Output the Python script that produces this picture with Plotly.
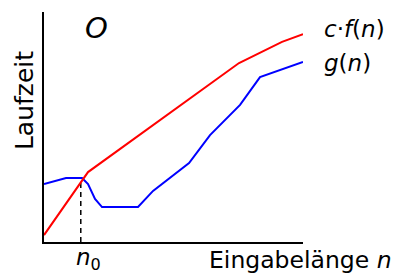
import plotly.graph_objects as go

# data (arbitrary units)
red_x = [0, 1.70, 7.53, 9.19, 10]
red_y = [0.30, 3.04, 7.78, 8.70, 9.04]

blue_x = [0, 0.85, 1.47, 1.70, 1.97, 2.24, 3.63, 4.21, 5.60, 6.02, 6.41, 7.57, 8.34, 10]
blue_y = [2.52, 2.78, 2.78, 2.52, 1.87, 1.52, 1.52, 2.22, 3.43, 4.04, 4.65, 5.96, 7.17, 7.83]

n0_x = [1.42, 1.42]
n0_y = [0, 2.72]

FONT = "DejaVu Sans"

fig = go.Figure()
fig.add_trace(go.Scatter(x=n0_x, y=n0_y, mode="lines",
                         line=dict(color="black", width=1.5, dash="5px,4px"),
                         showlegend=False, hoverinfo="skip"))
fig.add_trace(go.Scatter(x=blue_x, y=blue_y, mode="lines",
                         line=dict(color="#0000ff", width=2),
                         showlegend=False))
fig.add_trace(go.Scatter(x=red_x, y=red_y, mode="lines",
                         line=dict(color="#ff0000", width=2),
                         showlegend=False))

ann = [
    dict(x=0.201, y=1.015, text="<i>O</i>", yanchor="top", font=dict(size=29)),
    dict(x=1.073, y=0.925, text="<i>c</i>·<i>f</i>(<i>n</i>)", xanchor="left", font=dict(size=23)),
    dict(x=1.073, y=0.778, text="<i>g</i>(<i>n</i>)", xanchor="left", font=dict(size=23)),
    dict(x=1.351, y=-0.08, text="Eingabelänge <i>n</i>", xanchor="right", font=dict(size=23.5)),
    dict(x=0.170, y=-0.075, text="<i>n</i><sub>0</sub>", font=dict(size=23)),
    dict(x=-0.077, y=0.613, text="Laufzeit", textangle=-90, font=dict(size=25)),
]
for a in ann:
    a.setdefault("xanchor", "center")
    a.setdefault("yanchor", "middle")
    a.update(xref="paper", yref="paper", showarrow=False)
    a["font"].update(family=FONT, color="black")
fig.update_layout(annotations=ann)

fig.update_layout(
    width=391, height=268,
    margin=dict(l=36, r=96, t=4, b=34),
    paper_bgcolor="white", plot_bgcolor="white",
    xaxis=dict(range=[0, 10], showline=True, linecolor="black", linewidth=2,
               showgrid=False, zeroline=False, showticklabels=False, ticks=""),
    yaxis=dict(range=[0, 10], showline=True, linecolor="black", linewidth=2,
               showgrid=False, zeroline=False, showticklabels=False, ticks=""),
)
fig.write_html("out.html")
